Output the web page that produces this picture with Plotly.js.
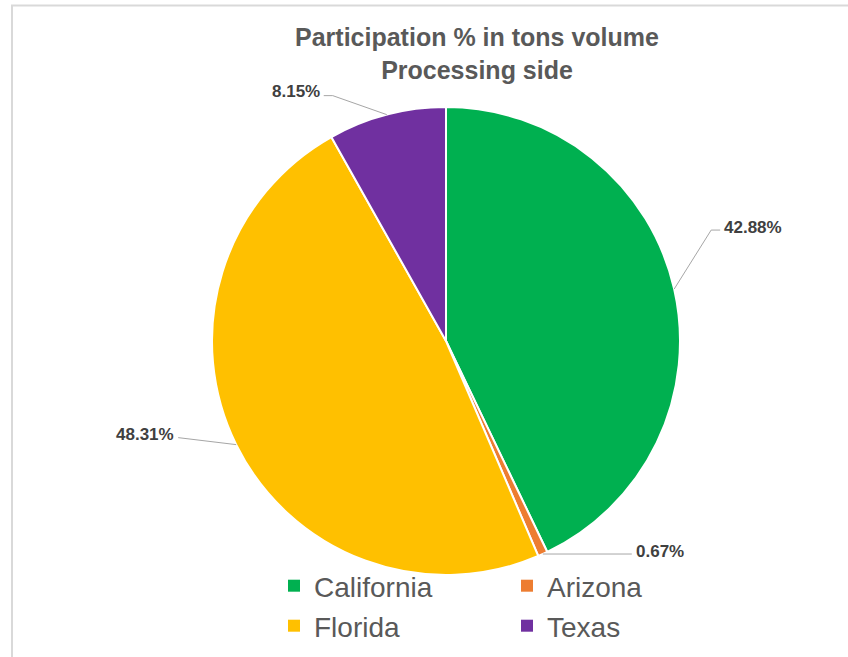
<!DOCTYPE html>
<html>
<head>
<meta charset="utf-8">
<script src="https://cdn.plot.ly/plotly-3.0.1.min.js"></script>
<style>
  html, body { margin: 0; padding: 0; background: #fff; }
  #chart { width: 848px; height: 657px; }
</style>
</head>
<body>
<div id="chart"></div>
<script>
// ---- data ----
const labels = ["California", "Arizona", "Florida", "Texas"];
const values = [42.88, 0.67, 48.31, 8.15];
const valueText = ["42.88%", "0.67%", "48.31%", "8.15%"];
const colors = ["#00B050", "#ED7D31", "#FFC000", "#7030A0"];

// ---- layout constants (pixels) ----
const W = 848, H = 657;
const CX = 446, CY = 341, R = 234;
// leader line layout per label: elbow offset from edge point, end offset from elbow, text side
const elbowOff = [[37, -59], [0, 0], [-58, -7], [-54, -19]];
const endOff   = [[9, 0], [89, 0], [0, 0], [-9, 0]];
const textSide = ["left", "left", "right", "right"];
const textGapPx = 2;
const textDy = [-3, -3, -3, -4];
// legend slots (symbol centre x, row centre y) in 2 columns x 2 rows
const legendX = [294, 527, 294, 527];
const legendY = [586, 586, 626, 626];

const px = x => x / W;
const py = y => 1 - y / H;
const FONT = "Liberation Sans, Arial, sans-serif";

const total = values.reduce((a, b) => a + b, 0);
let cum = 0;
const shapes = [];
const annotations = [];
values.forEach((v, i) => {
  const mid = (cum + v / 2) / total * 2 * Math.PI; // clockwise from 12 o'clock
  cum += v;
  const ex = CX + R * Math.sin(mid);
  const ey = CY - R * Math.cos(mid);
  const bx = ex + elbowOff[i][0], by = ey + elbowOff[i][1];
  const qx = bx + endOff[i][0], qy = by + endOff[i][1];
  shapes.push({
    type: "path", xref: "paper", yref: "paper",
    path: `M ${px(ex)} ${py(ey)} L ${px(bx)} ${py(by)} L ${px(qx)} ${py(qy)}`,
    line: { color: "#A6A6A6", width: 1 }
  });
  const left = textSide[i] === "left";
  annotations.push({
    xref: "paper", yref: "paper",
    x: px(qx + (left ? textGapPx : -textGapPx)),
    y: py(qy + textDy[i]),
    xanchor: left ? "left" : "right", yanchor: "middle",
    text: "<b>" + valueText[i] + "</b>",
    showarrow: false,
    font: { family: FONT, size: 17, color: "#404040" }
  });
});

// chart-area frame (left and top edges visible)
shapes.push({ type: "line", xref: "paper", yref: "paper", x0: px(12), x1: px(12), y0: 0, y1: py(5), line: { color: "#D9D9D9", width: 2 } });
shapes.push({ type: "line", xref: "paper", yref: "paper", x0: px(11), x1: 1, y0: py(5.5), y1: py(5.5), line: { color: "#D9D9D9", width: 2 } });

const pieTrace = {
  type: "pie",
  labels: labels,
  values: values,
  sort: false,
  direction: "clockwise",
  rotation: 0,
  textinfo: "none",
  hoverinfo: "label+percent",
  showlegend: false,
  marker: { colors: colors, line: { color: "#FFFFFF", width: 2 } },
  domain: { x: [px(CX - R), px(CX + R)], y: [py(CY + R), py(CY - R)] }
};

// legend entries: one legend per slice so the 2x2 grid can be placed exactly
const legendIds = ["legend", "legend2", "legend3", "legend4"];
const legendTraces = labels.map((lab, i) => ({
  type: "scatter", mode: "markers",
  x: [null], y: [null],
  name: lab,
  legend: legendIds[i],
  showlegend: true,
  hoverinfo: "skip",
  marker: { symbol: "square", size: 12, color: colors[i] }
}));

const layout = {
  width: W, height: H,
  margin: { l: 0, r: 0, t: 0, b: 0, pad: 0 },
  paper_bgcolor: "#FFFFFF",
  plot_bgcolor: "rgba(0,0,0,0)",
  xaxis: { visible: false, fixedrange: true },
  yaxis: { visible: false, fixedrange: true },
  title: {
    text: "<b>Participation % in tons volume<br>Processing side</b>",
    x: px(477), xanchor: "center",
    y: py(46), yanchor: "top",
    font: { family: FONT, size: 25, color: "#595959" }
  },
  shapes: shapes,
  annotations: annotations
};
legendIds.forEach((id, i) => {
  layout[id] = {
    orientation: "h",
    x: px(legendX[i] - 20), xanchor: "left",
    y: py(legendY[i]), yanchor: "middle",
    font: { family: FONT, size: 28, color: "#595959" },
    bgcolor: "rgba(0,0,0,0)"
  };
});

Plotly.newPlot("chart", [pieTrace].concat(legendTraces), layout, { displayModeBar: false, staticPlot: true });
</script>
</body>
</html>
